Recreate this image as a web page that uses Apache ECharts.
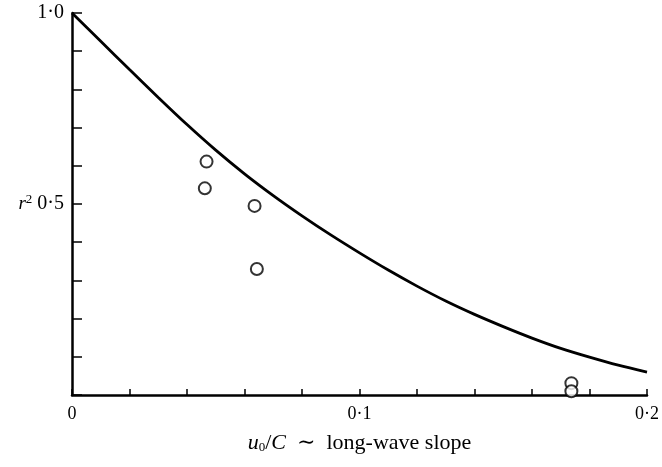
<!DOCTYPE html>
<html>
<head>
<meta charset="utf-8">
<script src="https://cdn.jsdelivr.net/npm/echarts@6/dist/echarts.min.js"></script>
<style>
  html, body { margin: 0; padding: 0; background: #fff; }
  #chart { width: 662px; height: 467px; }
</style>
</head>
<body>
<div id="chart"></div>
<script>
  // theory curve
  const curveX = [0, 0.01, 0.02, 0.03, 0.04, 0.05, 0.06, 0.07, 0.08, 0.09, 0.10,
    0.11, 0.12, 0.13, 0.14, 0.15, 0.16, 0.17, 0.18, 0.19, 0.20];
  const curveY = [1.0, 0.926, 0.852, 0.779, 0.708, 0.641, 0.579, 0.522, 0.469, 0.419, 0.372,
    0.327, 0.285, 0.246, 0.211, 0.179, 0.149, 0.122, 0.099, 0.078, 0.060];

  // measured points (open circles)
  const obsX = [0.0468, 0.0462, 0.0635, 0.0643, 0.1737, 0.1737];
  const obsY = [0.611, 0.541, 0.495, 0.330, 0.031, 0.010];

  const xTickLabels = {'0': '0', '0.1': '0·1', '0.2': '0·2'};
  const yTickLabels = {'0.5': '{r|r}{s|2} 0·5', '1': '1·0'};

  const font = '"Liberation Serif", "DejaVu Serif", serif';
  const key = v => String(Math.round(v * 1000) / 1000);

  const chart = echarts.init(document.getElementById('chart'));

  const option = {
    animation: false,
    backgroundColor: '#fff',
    grid: {left: 72, right: 14, top: 13, bottom: 72},
    xAxis: {
      type: 'value',
      min: 0,
      max: 0.2,
      interval: 0.02,
      name: '{i|u}{sub|0}{t|/}{i|C}{t|  ∼  long-wave slope}',
      nameLocation: 'middle',
      nameGap: 37,
      nameTextStyle: {
        rich: {
          i: {fontFamily: font, fontStyle: 'italic', fontSize: 22, color: '#000'},
          sub: {fontFamily: font, fontSize: 13, color: '#000', verticalAlign: 'bottom', padding: [9, 0, 0, 0]},
          t: {fontFamily: font, fontSize: 22, color: '#000'}
        }
      },
      axisLine: {lineStyle: {color: '#000', width: 2.5}},
      axisTick: {inside: true, length: 6, lineStyle: {color: '#000', width: 1.5}},
      axisLabel: {
        margin: 10,
        fontFamily: font,
        fontSize: 18,
        color: '#000',
        formatter: v => xTickLabels[key(v)] || ''
      },
      splitLine: {show: false}
    },
    yAxis: {
      type: 'value',
      min: 0,
      max: 1,
      interval: 0.1,
      axisLine: {show: true, lineStyle: {color: '#000', width: 2.5}},
      axisTick: {show: true, inside: true, length: 10, lineStyle: {color: '#000', width: 1.5}},
      axisLabel: {
        margin: 8,
        fontFamily: font,
        fontSize: 20,
        color: '#000',
        formatter: v => yTickLabels[key(v)] || '',
        rich: {
          r: {fontFamily: font, fontStyle: 'italic', fontSize: 19, color: '#000'},
          s: {fontFamily: font, fontSize: 13, color: '#000', verticalAlign: 'top', padding: [0, 0, 8, 0]}
        }
      },
      splitLine: {show: false}
    },
    series: [
      {
        type: 'line',
        smooth: 0.3,
        symbol: 'none',
        lineStyle: {color: '#000', width: 2.8},
        data: curveX.map((x, i) => [x, curveY[i]])
      },
      {
        type: 'scatter',
        symbol: 'circle',
        symbolSize: 12,
        itemStyle: {color: '#fff', borderColor: '#000', borderWidth: 2},
        data: obsX.map((x, i) => [x, obsY[i]])
      }
    ]
  };

  chart.setOption(option);
</script>
</body>
</html>
